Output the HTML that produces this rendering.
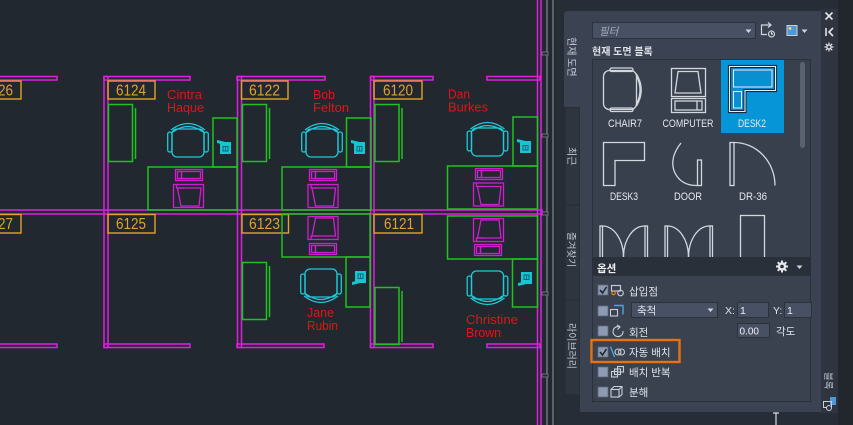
<!DOCTYPE html>
<html><head><meta charset="utf-8">
<style>
html,body{margin:0;padding:0;background:#212830;overflow:hidden;width:853px;height:425px;}
svg{display:block}
text{font-family:"Liberation Sans","Noto Sans CJK KR",sans-serif;}
</style></head>
<body>
<svg width="853" height="425" viewBox="0 0 853 425" xmlns="http://www.w3.org/2000/svg">
<defs>
 <g id="chair" fill="none" stroke="#1ccbd8" stroke-width="1.3">
  <rect x="5" y="8" width="32" height="28" rx="5"/>
  <path d="M4,9 Q21,-4 38,9"/>
  <path d="M6,11 Q21,0 36,11"/>
  <rect x="0.7" y="11" width="4.3" height="20" rx="2"/>
  <rect x="37" y="11" width="4.3" height="20" rx="2"/>
 </g>
 <g id="phone">
  <rect x="3.5" y="3.5" width="10" height="11" fill="#17c4d2" stroke="#17c4d2" stroke-width="1"/>
  <rect x="6" y="7.5" width="5" height="4.5" fill="none" stroke="#0f5a63" stroke-width="0.9"/>
  <line x1="8.5" y1="7.5" x2="8.5" y2="12" stroke="#0f5a63" stroke-width="0.8"/>
  <path d="M0,1 L7.5,2.8 L7,5.6 L0,4 Z" fill="#17c4d2"/>
 </g>
 <g id="mon" fill="none" stroke="#d41bd4" stroke-width="1.3">
  <rect x="0.5" y="0.5" width="30" height="23"/>
  <path d="M4.5,4 L28,4 L26,22 L8,22 Z"/>
  <path d="M3.5,0.5 V4 H11"/>
 </g>
 <g id="kbd" fill="none" stroke="#d41bd4" stroke-width="1.3">
  <rect x="0.5" y="0.5" width="27" height="11"/>
  <rect x="2.5" y="2.5" width="4" height="7"/>
  <rect x="6.5" y="2.5" width="19" height="7"/>
 </g>
 <g id="cab" fill="none" stroke="#1fc31f" stroke-width="1.5">
  <rect x="0.5" y="0.5" width="24" height="57"/>
  <line x1="27.5" y1="4" x2="27.5" y2="55"/>
 </g>
</defs>

<!-- drawing background -->
<rect x="0" y="0" width="853" height="425" fill="#212830"/>

<!-- grey exterior lines -->
<g stroke="#6b7079" stroke-width="1.6">
 <line x1="547" y1="0" x2="547" y2="425"/>
 <line x1="553" y1="0" x2="553" y2="425"/>
</g>
<g fill="#212830" stroke="#6b7079" stroke-width="1">
 <rect x="542" y="52" width="6" height="3"/>
 <rect x="542" y="134" width="6" height="3"/>
 <rect x="542" y="212" width="6" height="3"/>
 <rect x="542" y="292" width="6" height="3"/>
 <rect x="542" y="374" width="6" height="3"/>
</g>

<!-- walls -->
<g fill="none" stroke="#df1fdf" stroke-width="1.5">
 <!-- top walls -->
 <rect x="-5" y="76.5" width="62" height="3.5"/>
 <rect x="104" y="76.5" width="86" height="3.5"/>
 <rect x="237" y="76.5" width="88" height="3.5"/>
 <rect x="370.5" y="76.5" width="62.5" height="3.5"/>
 <rect x="487" y="76.5" width="53" height="3.5"/>
 <!-- corridor -->
 <rect x="-5" y="210" width="547" height="4"/>
 <!-- bottom walls -->
 <rect x="-5" y="344" width="62" height="3.5"/>
 <rect x="104" y="344" width="86" height="3.5"/>
 <rect x="237" y="344" width="87" height="3.5"/>
 <rect x="370.5" y="344" width="62.5" height="3.5"/>
 <rect x="487" y="344" width="53" height="3.5"/>
 <!-- vertical walls -->
 <rect x="104" y="76.5" width="4" height="271"/>
 <rect x="237.5" y="76.5" width="4" height="271"/>
 <rect x="370.5" y="76.5" width="3.5" height="271"/>
 <rect x="537.5" y="-5" width="3.5" height="435"/>
</g>

<!-- room labels -->
<g fill="none" stroke="#e3a22a" stroke-width="1.4">
 <rect x="-3" y="81" width="24" height="18"/>
 <rect x="108" y="81" width="47" height="18"/>
 <rect x="241.5" y="81" width="46.5" height="18"/>
 <rect x="374" y="81" width="48" height="18"/>
 <rect x="-3" y="214.5" width="24" height="18.5"/>
 <rect x="108" y="214.5" width="47" height="18.5"/>
 <rect x="242" y="214.5" width="46.5" height="18.5"/>
 <rect x="374" y="214.5" width="48" height="18.5"/>
</g>
<g fill="#e3a22a" font-size="15.5">
 <text x="-17" y="95.5" textLength="30" lengthAdjust="spacingAndGlyphs">6126</text>
 <text x="116" y="95.5" textLength="30" lengthAdjust="spacingAndGlyphs">6124</text>
 <text x="249" y="95.5" textLength="31" lengthAdjust="spacingAndGlyphs">6122</text>
 <text x="383" y="95.5" textLength="30" lengthAdjust="spacingAndGlyphs">6120</text>
 <text x="-17" y="229" textLength="30" lengthAdjust="spacingAndGlyphs">6127</text>
 <text x="116" y="229" textLength="30" lengthAdjust="spacingAndGlyphs">6125</text>
 <text x="249" y="229" textLength="31" lengthAdjust="spacingAndGlyphs">6123</text>
 <text x="384" y="229" textLength="30" lengthAdjust="spacingAndGlyphs">6121</text>
</g>

<!-- names -->
<g fill="#e51313" font-size="12.5">
 <text x="167" y="99" textLength="35" lengthAdjust="spacingAndGlyphs">Cintra</text>
 <text x="167" y="112" textLength="37" lengthAdjust="spacingAndGlyphs">Haque</text>
 <text x="313" y="99" textLength="22" lengthAdjust="spacingAndGlyphs">Bob</text>
 <text x="313" y="112" textLength="36" lengthAdjust="spacingAndGlyphs">Felton</text>
 <text x="448" y="98.5" textLength="22" lengthAdjust="spacingAndGlyphs">Dan</text>
 <text x="448" y="111.5" textLength="40" lengthAdjust="spacingAndGlyphs">Burkes</text>
 <text x="307" y="317" textLength="27" lengthAdjust="spacingAndGlyphs">Jane</text>
 <text x="307" y="330" textLength="31" lengthAdjust="spacingAndGlyphs">Rubin</text>
 <text x="466" y="324" textLength="52" lengthAdjust="spacingAndGlyphs">Christine</text>
 <text x="466" y="337" textLength="35" lengthAdjust="spacingAndGlyphs">Brown</text>
</g>

<!-- upper cubes furniture -->
<g fill="none" stroke="#1fc31f" stroke-width="1.5">
 <rect x="148" y="167" width="89" height="43"/>
 <rect x="213" y="118" width="24" height="49"/>
 <rect x="282" y="167" width="89" height="43"/>
 <rect x="346.5" y="118" width="24.5" height="49"/>
 <rect x="447.5" y="166" width="90" height="43"/>
 <rect x="513" y="117" width="24.5" height="49"/>
 <!-- lower -->
 <rect x="282" y="214" width="88" height="43"/>
 <rect x="346" y="257" width="24" height="50"/>
 <rect x="447.5" y="216" width="90" height="43"/>
 <rect x="512.5" y="259" width="25" height="48"/>
</g>
<use href="#cab" x="108" y="104"/>
<use href="#cab" x="242" y="104"/>
<use href="#cab" x="374.5" y="104"/>
<use href="#cab" x="242" y="262"/>
<use href="#cab" x="374.5" y="287"/>

<use href="#chair" x="167" y="121"/>
<use href="#chair" x="301" y="121"/>
<use href="#chair" x="466.5" y="120"/>
<g transform="translate(300,305) scale(1,-1)"><use href="#chair"/></g>
<g transform="translate(466.5,307) scale(1,-1)"><use href="#chair"/></g>

<use href="#phone" x="217" y="139"/>
<use href="#phone" x="351" y="139"/>
<use href="#phone" x="517" y="138"/>
<g transform="translate(352,286) scale(1,-1)"><use href="#phone"/></g>
<g transform="translate(518,287) scale(1,-1)"><use href="#phone"/></g>

<use href="#kbd" x="175" y="169"/>
<use href="#kbd" x="309" y="169"/>
<use href="#kbd" x="475" y="168"/>
<use href="#kbd" x="309" y="243"/>
<use href="#kbd" x="474" y="244"/>

<use href="#mon" x="173" y="184"/>
<use href="#mon" x="307.5" y="184"/>
<use href="#mon" x="473" y="182.5"/>
<g transform="translate(307.5,240) scale(1,-1)"><use href="#mon"/></g>
<g transform="translate(473,242) scale(1,-1)"><use href="#mon"/></g>

<!-- ================= PALETTE ================= -->
<rect x="555" y="0" width="298" height="425" fill="#272d36"/>
<rect x="838" y="0" width="15" height="425" fill="#22262d"/>
<rect x="821" y="9" width="17" height="404" fill="#2f3540"/>

<!-- inactive tabs -->
<g fill="#2f353f" stroke="#262b33" stroke-width="1">
 <rect x="565" y="107" width="15" height="98"/>
 <rect x="565" y="205" width="15" height="95"/>
 <rect x="565" y="300" width="15" height="95"/>
</g>
<!-- panel body + active tab -->
<path d="M568,11 H821 V412 H580 V107 H564 V15 Q564,11 568,11 Z" fill="#3b4352"/>

<!-- tab labels -->
<g fill="#c4cad4" font-size="10">
 <text transform="translate(568,37) rotate(90)">현재 도면</text>
 <text transform="translate(568,147) rotate(90)">최근</text>
 <text transform="translate(568,232) rotate(90)" font-size="9.5">즐겨찾기</text>
 <text transform="translate(568,323) rotate(90)">라이브러리</text>
</g>

<!-- filter combo -->
<rect x="592.5" y="22.5" width="163" height="16" fill="#485164" stroke="#2e343e" stroke-width="1"/>
<text x="599" y="35" font-size="10.5" font-style="italic" fill="#a4acba">필터</text>
<path d="M745.5,29.5 L751.5,29.5 L748.5,33 Z" fill="#cfd5de"/>
<!-- load icon -->
<g fill="none" stroke="#cfd5de" stroke-width="1.2">
 <path d="M771,25 H761.5 V34.5 H767"/>
 <circle cx="771.5" cy="34" r="3"/>
 <path d="M771.5,32 V34 H773"/>
 <path d="M768,22.5 L771,25 L768,27.5"/>
</g>
<!-- image icon -->
<rect x="787" y="25.5" width="10" height="10" fill="#4d98d6" stroke="#c8d0dc" stroke-width="1"/>
<circle cx="790" cy="28.5" r="1.4" fill="#f0e070"/>
<path d="M801.5,29.5 L807.5,29.5 L804.5,33 Z" fill="#cfd5de"/>

<text x="592" y="55" font-size="10" font-weight="bold" fill="#dde1e8">현재 도면 블록</text>

<!-- blocks grid -->
<rect x="592.5" y="59.5" width="218" height="198" fill="#383f4d" stroke="#2b313a" stroke-width="1"/>
<rect x="800" y="62" width="5" height="86" rx="2.5" fill="#59616f"/>
<rect x="721" y="60" width="63" height="73" fill="#0696d7"/>

<g fill="none" stroke="#d3d8df" stroke-width="1.3">
 <!-- CHAIR7 -->
 <rect x="603.5" y="70.5" width="33" height="39" rx="6"/>
 <rect x="610" y="68" width="23" height="3.5" rx="1.5"/>
 <rect x="610" y="108" width="23" height="3.5" rx="1.5"/>
 <path d="M636.5,74 Q646,90 636.5,106"/>
 <path d="M637,77 Q643,90 637,103"/>
 <!-- COMPUTER -->
 <rect x="671.5" y="68.5" width="34" height="28"/>
 <path d="M678,71.5 L698,71.5 L701,93 L675,93 Z"/>
 <rect x="671.5" y="98.5" width="34" height="14"/>
 <rect x="675" y="101" width="27" height="9"/>
 <line x1="697" y1="101" x2="697" y2="110"/>
 <!-- DESK3 -->
 <path d="M603.5,142.5 H644.5 V160.5 H615 V185.5 H603.5 Z"/>
 <!-- DOOR -->
 <path d="M681,143 Q669,158 674.5,172 Q681,186 697.5,185.5"/>
 <rect x="697.5" y="160" width="4" height="25.5"/>
 <!-- DR-36 -->
 <rect x="730" y="142.5" width="4" height="43"/>
 <path d="M734,142.5 A41,43 0 0 1 775,185.5"/>
 <!-- row 3 -->
 <rect x="600" y="226" width="2.5" height="35"/>
 <rect x="645" y="226" width="2.5" height="35"/>
 <path d="M602.5,226 A21,31 0 0 1 623.5,257"/>
 <path d="M645,226 A21,31 0 0 0 623.5,257"/>
 <rect x="665" y="226" width="2.5" height="35"/>
 <rect x="710" y="226" width="2.5" height="35"/>
 <path d="M667.5,226 A21,31 0 0 1 688.5,257"/>
 <path d="M710,226 A21,31 0 0 0 688.5,257"/>
 <rect x="740.5" y="215.5" width="24" height="45"/>
</g>
<!-- DESK2 icon on blue -->
<path d="M729.5,66.5 H775.5 V90.5 H745 V111.5 H729.5 Z" fill="#0a8fd0" stroke="#1a2a3c" stroke-width="3.2"/>
<path d="M729.5,66.5 H775.5 V90.5 H745 V111.5 H729.5 Z" fill="none" stroke="#e8eef4" stroke-width="1.1"/>
<rect x="733.5" y="70" width="38.5" height="17" fill="#0a8fd0" stroke="#e8eef4" stroke-width="1"/>
<rect x="733.5" y="91.5" width="8" height="16.5" fill="#0a8fd0" stroke="#e8eef4" stroke-width="1"/>

<g fill="#e6e9ee" font-size="11" text-anchor="middle">
 <text x="625" y="127" textLength="34" lengthAdjust="spacingAndGlyphs">CHAIR7</text>
 <text x="688" y="127" textLength="51" lengthAdjust="spacingAndGlyphs">COMPUTER</text>
 <text x="752" y="127" textLength="28" lengthAdjust="spacingAndGlyphs">DESK2</text>
 <text x="624" y="200" textLength="28" lengthAdjust="spacingAndGlyphs">DESK3</text>
 <text x="688" y="200" textLength="28" lengthAdjust="spacingAndGlyphs">DOOR</text>
 <text x="753" y="200" textLength="28" lengthAdjust="spacingAndGlyphs">DR-36</text>
</g>

<!-- options header -->
<rect x="592" y="257" width="219" height="18" fill="#2a3039"/>
<text x="597" y="272" font-size="10.5" font-weight="bold" fill="#eef0f3">옵션</text>
<g transform="translate(782,266.5)" fill="#e4e7ec">
 <circle r="4.2"/>
 <g stroke="#e4e7ec" stroke-width="2">
  <line x1="0" y1="-6" x2="0" y2="6"/>
  <line x1="-6" y1="0" x2="6" y2="0"/>
  <line x1="-4.3" y1="-4.3" x2="4.3" y2="4.3"/>
  <line x1="-4.3" y1="4.3" x2="4.3" y2="-4.3"/>
 </g>
 <circle r="1.8" fill="#2a3039"/>
</g>
<path d="M796.5,265.5 L802.5,265.5 L799.5,269 Z" fill="#cfd5de"/>

<!-- options body -->
<rect x="592.5" y="275.5" width="218" height="126" fill="#3a4250" stroke="#2b313a" stroke-width="1"/>

<!-- checkboxes -->
<g fill="#8e9ab2" stroke="#5c677c" stroke-width="0.8">
 <rect x="598" y="285" width="10" height="10"/>
 <rect x="598" y="306" width="10" height="10"/>
 <rect x="598" y="326" width="10" height="10"/>
 <rect x="598" y="347" width="10" height="10"/>
 <rect x="598" y="367" width="10" height="10"/>
 <rect x="598" y="387" width="10" height="10"/>
</g>
<g fill="none" stroke="#1b222c" stroke-width="1.5">
 <path d="M600,290 L602.5,293 L606.5,287"/>
 <path d="M600,352 L602.5,355 L606.5,349"/>
</g>

<!-- option icons -->
<g fill="none" stroke="#c9cfd9" stroke-width="1.1">
 <rect x="611.5" y="285.5" width="9" height="5.5"/>
 <circle cx="620.5" cy="293" r="2.8"/>
 <rect x="610.5" y="309.5" width="7" height="6.5"/>
 <path d="M620,327 A5,5 0 1 0 623,331"/>
 <circle cx="618" cy="352" r="3"/>
 <circle cx="621.5" cy="352" r="3"/>
 <rect x="611.5" y="371.5" width="6" height="5.5"/>
 <rect x="614.5" y="369" width="6" height="5.5"/>
 <rect x="617.5" y="366.5" width="6" height="5.5"/>
 <rect x="611" y="389.5" width="8" height="7.5"/>
 <path d="M611,389.5 L614,386.5 H622 V394.5 L619,397 M619,389.5 L622,386.5"/>
</g>
<circle cx="613.5" cy="293" r="1.7" fill="none" stroke="#e8892a" stroke-width="1.1"/>
<path d="M614,305.5 H623 V314.5" fill="none" stroke="#4aa3e0" stroke-width="1.4"/>
<path d="M617,325 L620,327 L617.5,329.5" fill="none" stroke="#c9cfd9" stroke-width="1.1"/>
<line x1="610.5" y1="346.5" x2="614.5" y2="357" stroke="#4aa3e0" stroke-width="1.4"/>

<g fill="#e0e4ea" font-size="10.5">
 <text x="629" y="295">삽입점</text>
 <text x="629" y="336">회전</text>
 <text x="629" y="356">자동 배치</text>
 <text x="629" y="376">배치 반복</text>
 <text x="629" y="396">분해</text>
</g>

<!-- scale dropdown + inputs -->
<rect x="631.5" y="302.5" width="86" height="15" fill="#485164" stroke="#2c323c" stroke-width="1"/>
<text x="637" y="314" font-size="10.5" fill="#dfe3e9">축척</text>
<path d="M707.5,308.5 L713.5,308.5 L710.5,312 Z" fill="#cfd5de"/>
<text x="725" y="314" font-size="10.5" fill="#dfe3e9">X:</text>
<rect x="737.5" y="302.5" width="31" height="15" fill="#485164" stroke="#2c323c" stroke-width="1"/>
<text x="740" y="314" font-size="10.5" fill="#eef0f3">1</text>
<text x="773" y="314" font-size="10.5" fill="#dfe3e9">Y:</text>
<rect x="784.5" y="302.5" width="27" height="15" fill="#485164" stroke="#2c323c" stroke-width="1"/>
<text x="787" y="314" font-size="10.5" fill="#eef0f3">1</text>
<rect x="737.5" y="323.5" width="32" height="14" fill="#485164" stroke="#2c323c" stroke-width="1"/>
<text x="739.5" y="334.5" font-size="10" fill="#eef0f3">0.00</text>
<text x="776" y="335" font-size="10.5" fill="#dfe3e9">각도</text>

<!-- orange highlight -->
<rect x="591.5" y="340" width="88" height="22" fill="none" stroke="#e8720c" stroke-width="2.4"/>

<!-- right strip icons -->
<g stroke="#e2e5ea" stroke-width="1.6" fill="none">
 <line x1="825.5" y1="12.5" x2="832.5" y2="19.5"/>
 <line x1="832.5" y1="12.5" x2="825.5" y2="19.5"/>
 <line x1="826" y1="28" x2="826" y2="36"/>
 <path d="M833,28 L829,32 L833,36"/>
</g>
<g transform="translate(829,47)" stroke="#e2e5ea" stroke-width="1.2">
 <line x1="0" y1="-4.5" x2="0" y2="4.5"/>
 <line x1="-4.5" y1="0" x2="4.5" y2="0"/>
 <line x1="-3.2" y1="-3.2" x2="3.2" y2="3.2"/>
 <line x1="-3.2" y1="3.2" x2="3.2" y2="-3.2"/>
 <circle r="2" fill="#2f3540"/>
</g>
<text transform="translate(825,372) rotate(90)" font-size="9.5" fill="#b9c0ca">블록</text>
<rect x="830" y="397" width="6" height="8" fill="#4d98d6"/>
<rect x="823.5" y="401.5" width="8" height="6" fill="none" stroke="#c9cfd9" stroke-width="1"/>
<circle cx="829" cy="408" r="2.5" fill="#2f3540" stroke="#c9cfd9" stroke-width="1"/>

<!-- small cursor mark at bottom -->
<path d="M773,413 H779 M776,413 V425" stroke="#d8dce2" stroke-width="1.2"/>
</svg>
</body></html>
